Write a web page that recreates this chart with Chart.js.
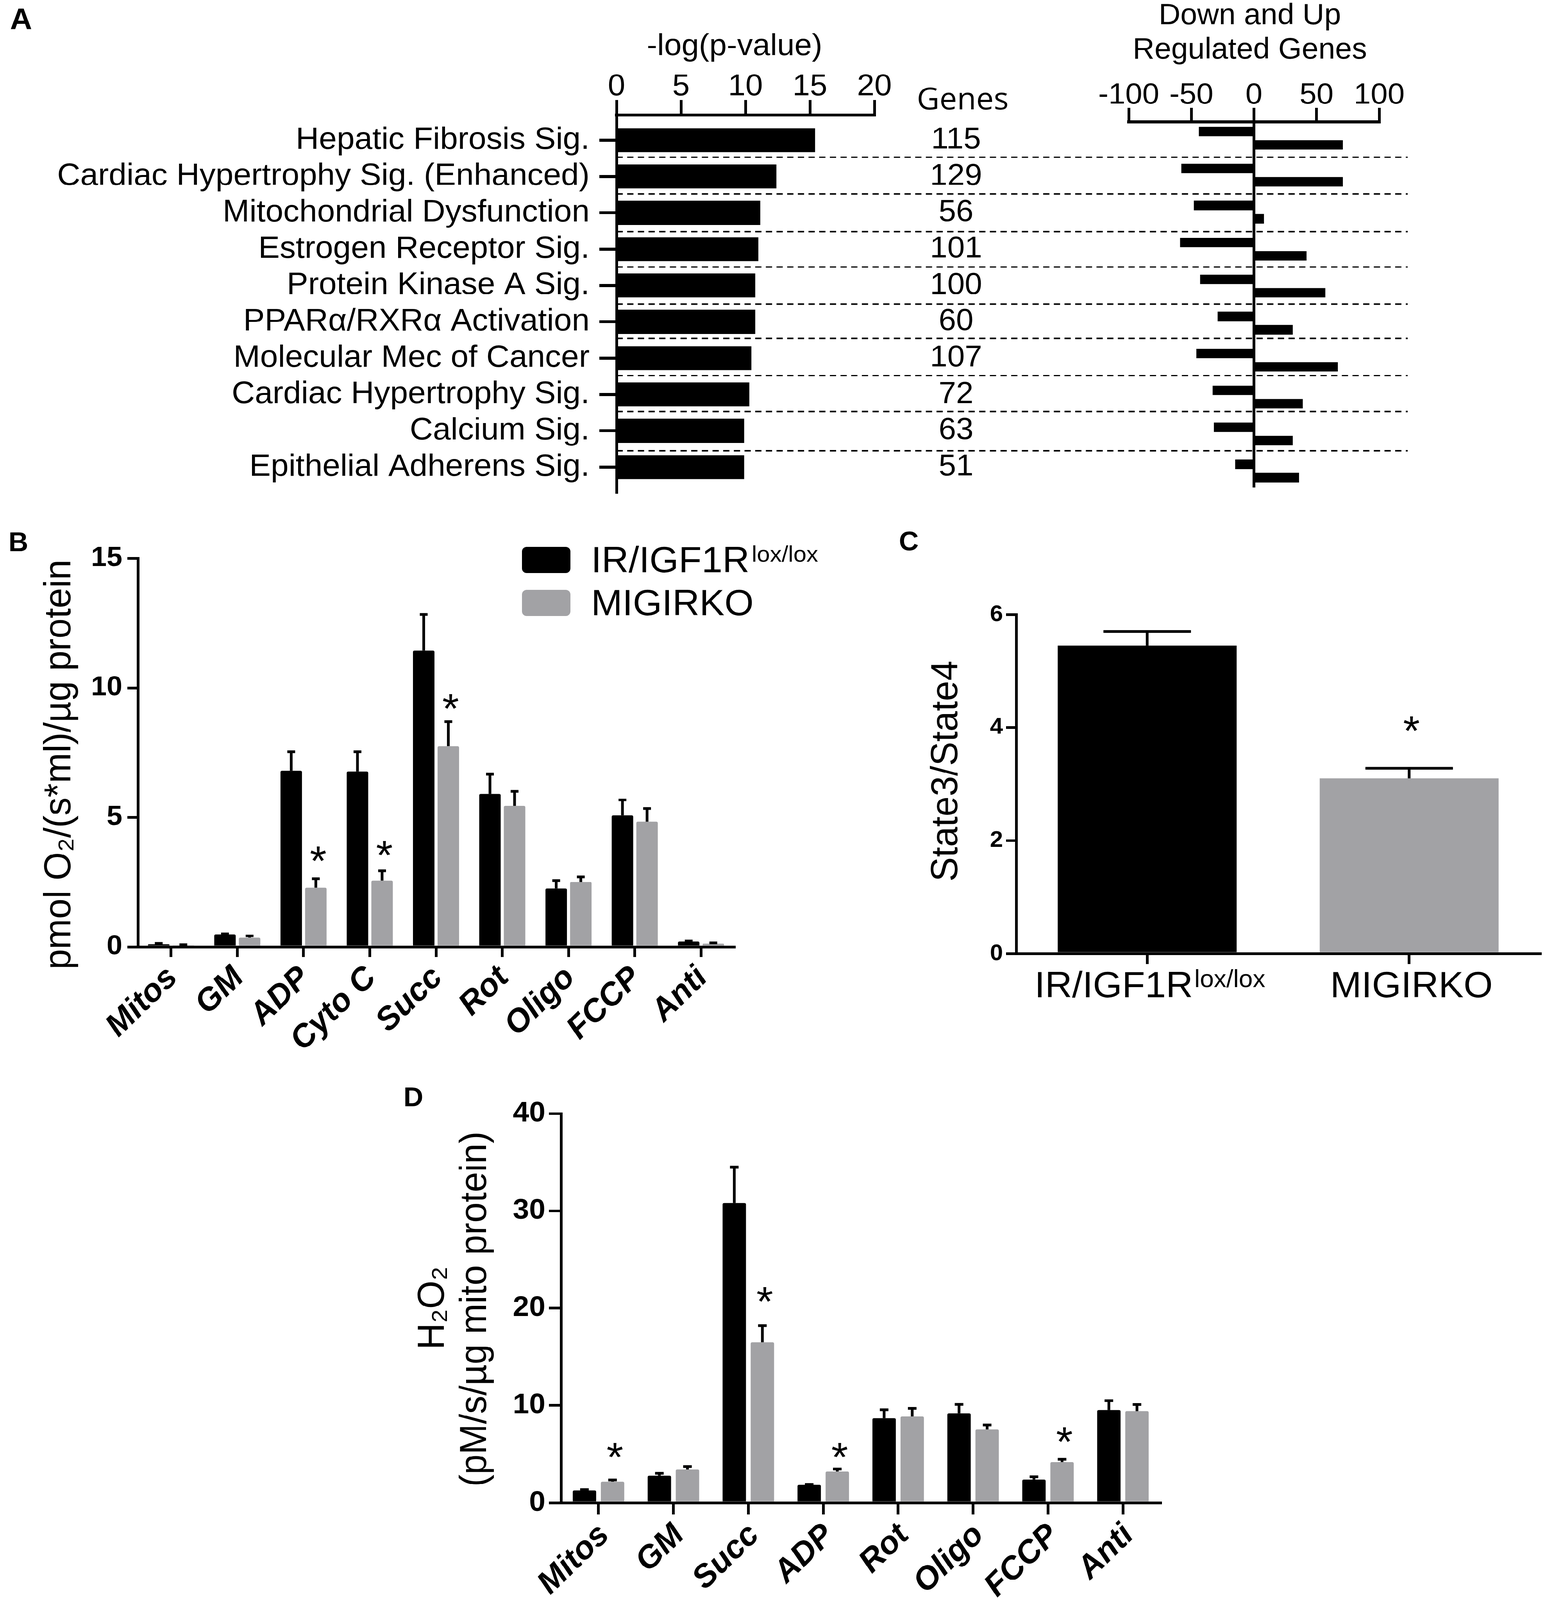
<!DOCTYPE html>
<html><head><meta charset="utf-8">
<style>html{margin:0;padding:0;background:#fff;width:3957px;height:4096px;overflow:hidden}body{margin:0;padding:0;background:#fff;position:relative;width:3957px;height:4213px;transform-origin:0 0;transform:scaleY(0.97223)}canvas{position:absolute;display:block}</style>
<script src="https://cdn.jsdelivr.net/npm/chart.js@4"></script>
</head><body>
<script>
// ---------- Panel A ----------
const pathways = ["Hepatic Fibrosis Sig.","Cardiac Hypertrophy Sig. (Enhanced)","Mitochondrial Dysfunction","Estrogen Receptor Sig.","Protein Kinase A Sig.","PPARα/RXRα Activation","Molecular Mec of Cancer","Cardiac Hypertrophy Sig.","Calcium Sig.","Epithelial Adherens Sig."];
const logP = [15.4,12.4,11.15,11.0,10.76,10.76,10.46,10.3,9.9,9.9];
const geneCounts = [115,129,56,101,100,60,107,72,63,51];
const downGenes = [-44,-58,-48,-59,-43,-29,-46,-33,-32,-15];
const upGenes = [71,71,8,42,57,31,67,39,31,36];
const rowSeparators = [0.47,1.48,2.52,3.49,4.51,5.46,6.48,7.47,8.55];
const logPTicks = [0,5,10,15,20];
const regTicks = [-100,-50,0,50,100];
// ---------- Panels B, D, C ----------
const seriesNames = ["IR/IGF1R","MIGIRKO"];
const ctlSuffix = "lox/lox";
const catsB = ["Mitos","GM","ADP","Cyto C","Succ","Rot","Oligo","FCCP","Anti"];
const ctlB = [0.1,0.48,6.8,6.77,11.43,5.9,2.25,5.07,0.2];
const koB = [0.06,0.35,2.28,2.56,7.74,5.44,2.5,4.83,0.12];
const ctlBErr = [0.13,0.5,7.53,7.53,12.83,6.66,2.56,5.67,0.22];
const koBErr = [0.08,0.42,2.63,2.93,8.69,6.0,2.7,5.34,0.15];
const starsB = [null,null,3.54,3.77,9.42,null,null,null,null];
const ticksB = [0,5,10,15];
const catsD = ["Mitos","GM","Succ","ADP","Rot","Oligo","FCCP","Anti"];
const ctlD = [1.27,2.78,30.8,1.83,8.68,9.2,2.39,9.53];
const koD = [2.18,3.44,16.5,3.2,8.86,7.52,4.18,9.42];
const ctlDErr = [1.35,3.02,34.5,1.9,9.56,10.1,2.67,10.5];
const koDErr = [2.35,3.73,18.2,3.48,9.7,8.0,4.46,10.09];
const starsD = [5.3,null,21.3,5.3,null,null,6.9,null];
const ticksD = [0,10,20,30,40];
const catsC = ["IR/IGF1R","MIGIRKO"];
const ratioC = [5.45,3.1];
const ratioCErr = [5.7,3.28];
const starsC = [null,4.05];
const ticksC = [0,2,4,6];

const BLACK='#000000', GREY='#a2a2a5';
const FAM='"Liberation Sans", Arial, sans-serif';
Chart.defaults.font.family=FAM;
Chart.defaults.color='#000';
Chart.defaults.animation=false;
Chart.defaults.plugins.legend.display=false;
Chart.defaults.plugins.tooltip.enabled=false;

function mount(r){const c=document.createElement('canvas');c.width=r.w;c.height=r.h;c.style.left=r.x+'px';c.style.top=r.y+'px';document.body.appendChild(c);return c;}
function txt(ctx,s,x,y,font,align,base,rot){ctx.save();ctx.translate(x,y);if(rot)ctx.rotate(rot);ctx.font=font;ctx.fillStyle='#000';ctx.textAlign=align||'center';ctx.textBaseline=base||'middle';ctx.fillText(s,0,0);ctx.restore();}
function page(r,draw){return {id:'pg',afterDraw(chart){const c=chart.ctx;c.save();c.translate(-r.x,-r.y);draw(c,chart);c.restore();}};}
const rows=v=>v.map((x,i)=>({x:x,y:i}));
function fixW(w){return s=>{s.width=w;};}
function fixH(h){return s=>{s.height=h;};}

function marks(errs,stars,stemW,capW,starFont){return {id:'marks',afterDatasetsDraw(chart){
  const c=chart.ctx,y=chart.scales.y;c.save();c.fillStyle='#000';
  errs.forEach((arr,ds)=>{const m=chart.getDatasetMeta(ds);arr.forEach((e,i)=>{const el=m.data[i];const top=y.getPixelForValue(e),bot=y.getPixelForValue(chart.data.datasets[ds].data[i]);
    c.fillRect(el.x-stemW/2,top,stemW,Math.max(bot-top,0));c.fillRect(el.x-capW/2,top-stemW/2,capW,stemW);});});
  const ds=chart.data.datasets.length-1,m=chart.getDatasetMeta(ds);
  stars.forEach((v,i)=>{if(v==null)return;const f=parseFloat(starFont);txt(c,'*',m.data[i].x+6,y.getPixelForValue(v)+f*0.48,'normal '+f+'px '+FAM,'center','alphabetic');});
  c.restore();}};}

function axisY(ticks,max,w,font,tickLen,pad,lw){return {min:0,max:max,afterFit:fixW(w),afterBuildTicks:s=>{s.ticks=ticks.map(v=>({value:v}));},
  border:{color:'#000',width:lw},grid:{drawOnChartArea:false,color:'#000',lineWidth:lw,tickLength:tickLen,tickColor:'#000'},
  ticks:{font:{size:font,weight:'bold'},padding:pad,color:'#000',autoSkip:false}};}
function axisX(h,font,tickLen,lw,rot,labelOffset){return {type:'category',afterFit:fixH(h),border:{color:'#000',width:lw},
  grid:{drawOnChartArea:false,color:'#000',lineWidth:lw,tickLength:tickLen,tickColor:'#000',offset:false},
  ticks:{font:{size:font,weight:'bold',style:'italic'},maxRotation:rot,minRotation:rot,padding:6,labelOffset:labelOffset,color:'#000',autoSkip:false}};}

// ---- Panel A left ----
const rA={x:0,y:0,w:3957,h:1400};
new Chart(mount(rA),{type:'bar',
  data:{datasets:[{label:'-log(p-value)',data:rows(logP),backgroundColor:BLACK,categoryPercentage:0.66,barPercentage:1,borderWidth:0}]},
  options:{indexAxis:'y',responsive:false,devicePixelRatio:1,maintainAspectRatio:false,
    layout:{padding:{right:3957-2238,bottom:1400-1296}},
    scales:{
      x:{type:'linear',position:'top',min:0,max:20,afterFit:fixH(303),afterBuildTicks:s=>{s.ticks=logPTicks.map(v=>({value:v}));},
        border:{color:'#000',width:8},grid:{drawOnChartArea:false,color:'#000',lineWidth:7,tickLength:40,tickColor:'#000'},
        ticks:{font:{size:80},padding:-14,maxRotation:0,color:'#000'}},
      y:{type:'linear',reverse:true,offset:false,min:-0.69,max:9.69,afterFit:fixW(1578),
        border:{color:'#000',width:7},grid:{offset:false,drawOnChartArea:false,color:'#000',lineWidth:8,tickLength:44,tickColor:'#000'},
        ticks:{stepSize:1,includeBounds:false,autoSkip:false,font:{size:82},padding:25,color:'#000',callback:v=>pathways[v]}}
    }},
  plugins:[page(rA,(c,chart)=>{
    const y=chart.scales.y;
    c.save();c.strokeStyle='#000';c.lineWidth=4;c.setLineDash([16,11.3]);
    rowSeparators.forEach(v=>{const p=y.getPixelForValue(v);c.beginPath();c.moveTo(1578,p);c.lineTo(3603,p);c.stroke();});
    c.restore();
    geneCounts.forEach((g,i)=>txt(c,String(g),2447,y.getPixelForValue(i),'80px '+FAM));
    txt(c,'A',54,55,'bold 78px '+FAM);
    txt(c,'-log(p-value)',1880,123,'80px '+FAM);
    txt(c,'Genes',2464,265,'80px "Open Sans"');
    txt(c,'Down and Up',3199,43,'77px '+FAM);
    txt(c,'Regulated Genes',3199,133,'77px '+FAM);
  })]});

// ---- Panel A right ----
const rR={x:2700,y:150,w:1257,h:1190};
new Chart(mount(rR),{type:'bar',
  data:{datasets:[
    {label:'Down',data:rows(downGenes),backgroundColor:BLACK,categoryPercentage:0.72,barPercentage:0.71,borderWidth:0},
    {label:'Up',data:rows(upGenes),backgroundColor:BLACK,categoryPercentage:0.72,barPercentage:0.71,borderWidth:0}]},
  options:{indexAxis:'y',responsive:false,devicePixelRatio:1,maintainAspectRatio:false,
    layout:{padding:{left:2889-2700,right:3957-3530,bottom:1340-1283}},
    scales:{
      x:{type:'linear',position:'top',min:-100,max:100,afterFit:fixH(321-150),afterBuildTicks:s=>{s.ticks=regTicks.map(v=>({value:v}));},
        border:{color:'#000',width:8},grid:{drawOnChartArea:false,color:'#000',lineWidth:7,tickLength:37,tickColor:'#000'},
        ticks:{font:{size:78},padding:-14,maxRotation:0,color:'#000'}},
      y:{type:'linear',reverse:true,offset:false,min:-0.44,max:9.44,position:{x:0},
        border:{color:'#000',width:7},grid:{offset:false,display:true,drawOnChartArea:false,drawTicks:false},
        ticks:{display:false,stepSize:1,includeBounds:false}}
    }}});

// ---- Panel B ----
const rB={x:0,y:1350,w:2100,h:1450};
new Chart(mount(rB),{type:'bar',
  data:{labels:catsB,datasets:[
    {label:seriesNames[0],data:ctlB,backgroundColor:BLACK,categoryPercentage:0.743,barPercentage:0.873,borderWidth:0,borderRadius:4},
    {label:seriesNames[1],data:koB,backgroundColor:GREY,categoryPercentage:0.743,barPercentage:0.873,borderWidth:0,borderRadius:4}]},
  options:{responsive:false,devicePixelRatio:1,maintainAspectRatio:false,
    layout:{padding:{top:1470-1350,right:2100-1879}},
    scales:{x:axisX(2800-2493,84,27,7,45,4),y:axisY(ticksB,15,353,72,27,13,7)}},
  plugins:[marks([ctlBErr,koBErr],starsB,7,20,'110px'),page(rB,(c)=>{
    txt(c,'B',47,1432,'bold 70px '+FAM);
    txt(c,'pmol O₂/(s*ml)/µg protein',154,2013,'96px '+FAM,'center','middle',-Math.PI/2);
    c.fillStyle=BLACK;c.beginPath();c.roundRect(1336,1440,124,69,12);c.fill();
    c.fillStyle=GREY;c.beginPath();c.roundRect(1336,1553,124,69,12);c.fill();
    txt(c,seriesNames[0],1513,1507,'96px '+FAM,'left','alphabetic');
    txt(c,ctlSuffix,1924,1479,'60px '+FAM,'left','alphabetic');
    txt(c,seriesNames[1],1513,1620,'96px '+FAM,'left','alphabetic');
  })]});

// ---- Panel C ----
const rC={x:2200,y:1350,w:1757,h:1450};
new Chart(mount(rC),{type:'bar',
  data:{labels:catsC,datasets:[{label:'State3/State4',data:ratioC,backgroundColor:[BLACK,GREY],categoryPercentage:1,barPercentage:0.683,borderWidth:0}]},
  options:{responsive:false,devicePixelRatio:1,maintainAspectRatio:false,
    layout:{padding:{top:1618-1350,right:3957-3942}},
    scales:{x:Object.assign(axisX(2800-2511,96,28,7,0,0),{ticks:{display:false}}),y:axisY(ticksC,6,2601-2200,60,26,8,7)}},
  plugins:[marks([ratioCErr],starsC,7,224,'110px'),page(rC,(c,chart)=>{
    txt(c,'C',2326,1430,'bold 70px '+FAM);
    txt(c,'State3/State4',2424,2030,'96px '+FAM,'center','middle',-Math.PI/2);
    const x=chart.scales.x;
    txt(c,catsC[0],2648,2626,'96px '+FAM,'left','alphabetic');
    txt(c,ctlSuffix,3057,2599,'64px '+FAM,'left','alphabetic');
    txt(c,catsC[1],2200+x.getPixelForValue(1)+6,2626,'96px '+FAM,'center','alphabetic');
  })]});

// ---- Panel D ----
const rD={x:950,y:2800,w:2100,h:1413};
new Chart(mount(rD),{type:'bar',
  data:{labels:catsD,datasets:[
    {label:seriesNames[0],data:ctlD,backgroundColor:BLACK,categoryPercentage:0.75,barPercentage:0.833,borderWidth:0,borderRadius:4},
    {label:seriesNames[1],data:koD,backgroundColor:GREY,categoryPercentage:0.75,barPercentage:0.833,borderWidth:0,borderRadius:4}]},
  options:{responsive:false,devicePixelRatio:1,maintainAspectRatio:false,
    layout:{padding:{top:2932-2800,right:3050-2970}},
    scales:{x:axisX(4213-3957,84,31,7,45,15),y:axisY(ticksD,40,1436-950,75,31,9,7)}},
  plugins:[marks([ctlDErr,koDErr],starsD,7,22,'110px'),page(rD,(c)=>{
    txt(c,'D',1058,2894,'bold 70px '+FAM);
    txt(c,'H₂O₂',1110,3444,'96px '+FAM,'center','middle',-Math.PI/2);
    txt(c,'(pM/s/µg mito protein)',1218,3447,'96px '+FAM,'center','middle',-Math.PI/2);
  })]});
</script>
</body></html>
